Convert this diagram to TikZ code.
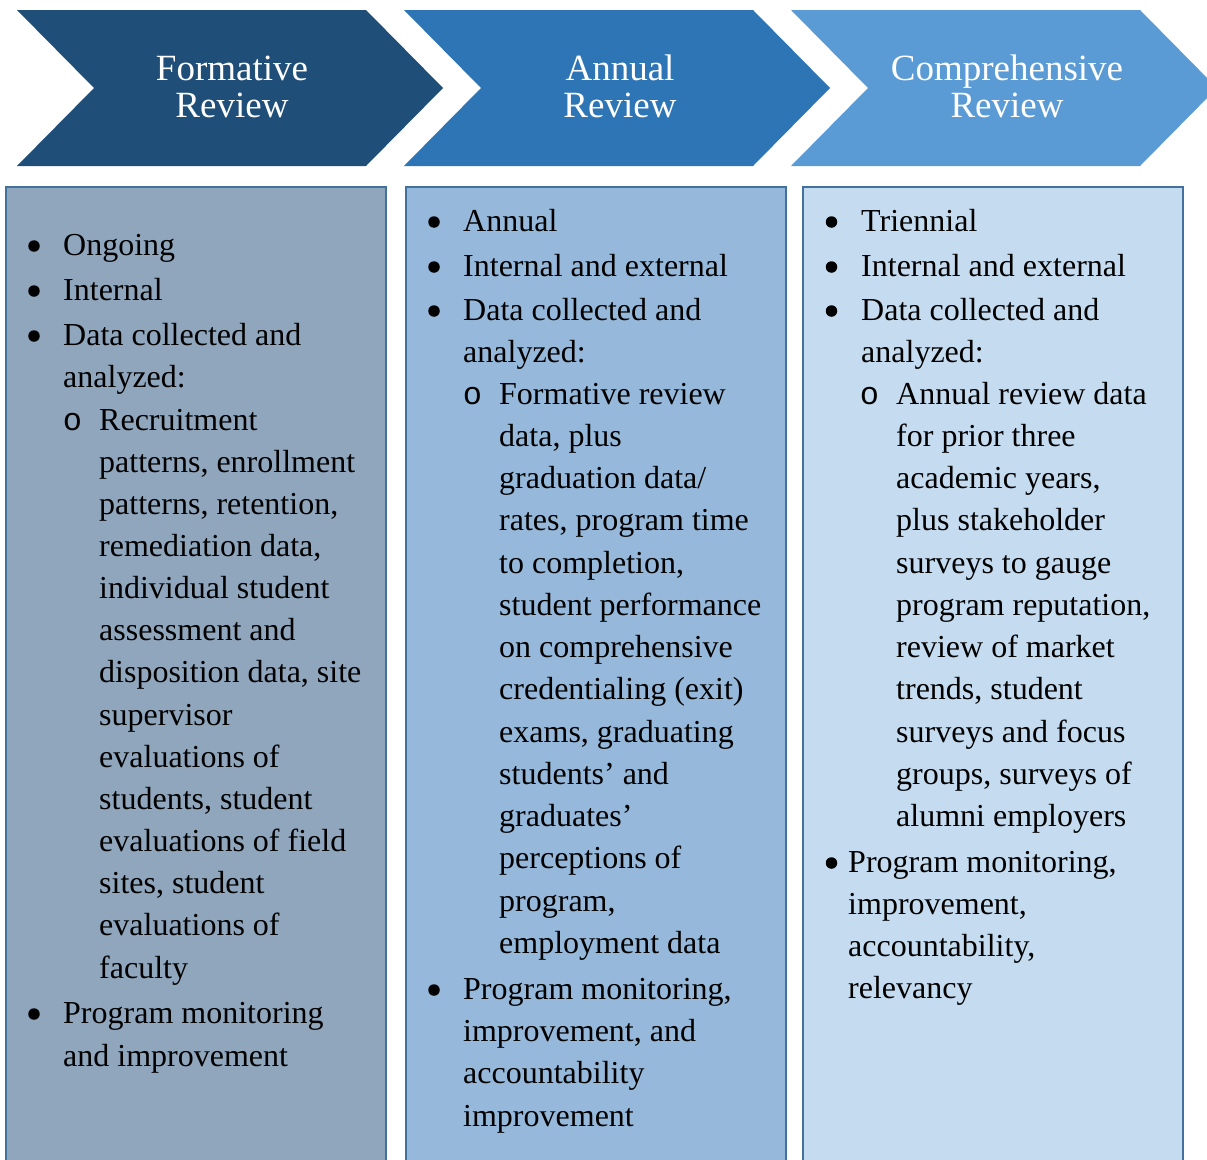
\documentclass[tikz,border=0pt]{standalone}
\usepackage{fontspec}
\setmainfont{Liberation Serif}
\newfontfamily\subbulletfont{Liberation Mono}
\definecolor{chevA}{HTML}{1F4E79}
\definecolor{chevB}{HTML}{2E75B6}
\definecolor{chevC}{HTML}{5B9BD5}
\definecolor{boxA}{HTML}{8FA6BD}
\definecolor{boxB}{HTML}{96B9DB}
\definecolor{boxC}{HTML}{C5DCF0}
\definecolor{edge}{HTML}{41719C}
\newcommand\Ln[4]{\node[txt] (#1) at (#2,#3) {#4};}
\begin{document}
\begin{tikzpicture}[x=1pt,y=-1pt,
  txt/.style={anchor=base west, inner sep=0pt, font=\fontsize{32}{38}\selectfont},
  hd/.style={anchor=base, inner sep=0pt, text=white, font=\fontsize{37}{37}\selectfont},
  dotmark/.style={circle, fill=black, inner sep=0pt, minimum size=11.5pt},
  ringmark/.style={anchor=base, inner sep=0pt, font=\subbulletfont\fontsize{32}{38}\selectfont},
  panel/.style={draw=edge, line width=2pt}]
\useasboundingbox (0,0) rectangle (1207,1159);
\clip (0,0) rectangle (1207,1159);
\fill[white] (0,0) rectangle (1207,1159);
% chevrons
\fill[chevA] (17,10) -- (366,10) -- (443,88) -- (366,166) -- (17,166) -- (94,88) -- cycle;
\fill[chevB] (404,10) -- (753,10) -- (830,88) -- (753,166) -- (404,166) -- (481,88) -- cycle;
\fill[chevC] (791,10) -- (1140,10) -- (1217,88) -- (1140,166) -- (791,166) -- (868,88) -- cycle;
\node[hd] (h1a) at (232,80) {Formative};
\node[hd] (h1b) at (232,117) {Review};
\node[hd] (h2a) at (620,80) {Annual};
\node[hd] (h2b) at (620,117) {Review};
\node[hd] (h3a) at (1007,80) {Comprehensive};
\node[hd] (h3b) at (1007,117) {Review};
% panels
\draw[panel, fill=boxA] (6,187) rectangle (386,1175);
\draw[panel, fill=boxB] (406,187) rectangle (786,1175);
\draw[panel, fill=boxC] (803,187) rectangle (1183,1175);
% ---- panel 1
\node[dotmark] (da1) at (34,246) {};
\node[dotmark] (da2) at (34,291) {};
\node[dotmark] (da3) at (34,336) {};
\node[dotmark] (da4) at (34,1014) {};
\node[ringmark] (oa) at (72.5,430) {o};
\Ln{a1}{63}{255}{Ongoing}
\Ln{a2}{63}{300}{Internal}
\Ln{a3}{63}{345}{Data collected and}
\Ln{a4}{63}{387}{analyzed:}
\Ln{a5}{99}{430}{Recruitment}
\Ln{a6}{99}{472.2}{patterns, enrollment}
\Ln{a7}{99}{514.3}{patterns, retention,}
\Ln{a8}{99}{556.5}{remediation data,}
\Ln{a9}{99}{598.6}{individual student}
\Ln{a10}{99}{640.8}{assessment and}
\Ln{a11}{99}{682.9}{disposition data, site}
\Ln{a12}{99}{725}{supervisor}
\Ln{a13}{99}{767.2}{evaluations of}
\Ln{a14}{99}{809.4}{students, student}
\Ln{a15}{99}{851.5}{evaluations of field}
\Ln{a16}{99}{893.7}{sites, student}
\Ln{a17}{99}{935.8}{evaluations of}
\Ln{a18}{99}{978}{faculty}
\Ln{a19}{63}{1023}{Program monitoring}
\Ln{a20}{63}{1066}{and improvement}
% ---- panel 2
\node[dotmark] (db1) at (434,222) {};
\node[dotmark] (db2) at (434,267) {};
\node[dotmark] (db3) at (434,311) {};
\node[dotmark] (db4) at (434,990) {};
\node[ringmark] (ob) at (472.5,404) {o};
\Ln{b1}{463}{231}{Annual}
\Ln{b2}{463}{276}{Internal and external}
\Ln{b3}{463}{320}{Data collected and}
\Ln{b4}{463}{362}{analyzed:}
\Ln{b5}{499}{404}{Formative review}
\Ln{b6}{499}{446.25}{data, plus}
\Ln{b7}{499}{488.5}{graduation data/}
\Ln{b8}{499}{530.75}{rates, program time}
\Ln{b9}{499}{573}{to completion,}
\Ln{b10}{499}{615.25}{student performance}
\Ln{b11}{499}{657.5}{on comprehensive}
\Ln{b12}{499}{699.75}{credentialing (exit)}
\Ln{b13}{499}{742}{exams, graduating}
\Ln{b14}{499}{784.25}{students’ and}
\Ln{b15}{499}{826.5}{graduates’}
\Ln{b16}{499}{868.75}{perceptions of}
\Ln{b17}{499}{911}{program,}
\Ln{b18}{499}{953.25}{employment data}
\Ln{b19}{463}{999}{Program monitoring,}
\Ln{b20}{463}{1041.5}{improvement, and}
\Ln{b21}{463}{1083.5}{accountability}
\Ln{b22}{463}{1126}{improvement}
% ---- panel 3
\node[dotmark] (dc1) at (831.5,222) {};
\node[dotmark] (dc2) at (831.5,267) {};
\node[dotmark] (dc3) at (831.5,311) {};
\node[dotmark] (dc4) at (831.5,863) {};
\node[ringmark] (oc) at (869.5,404) {o};
\Ln{c1}{861}{231}{Triennial}
\Ln{c2}{861}{276}{Internal and external}
\Ln{c3}{861}{320}{Data collected and}
\Ln{c4}{861}{362}{analyzed:}
\Ln{c5}{896}{404}{Annual review data}
\Ln{c6}{896}{446.25}{for prior three}
\Ln{c7}{896}{488.5}{academic years,}
\Ln{c8}{896}{530.75}{plus stakeholder}
\Ln{c9}{896}{573}{surveys to gauge}
\Ln{c10}{896}{615.25}{program reputation,}
\Ln{c11}{896}{657.5}{review of market}
\Ln{c12}{896}{699.75}{trends, student}
\Ln{c13}{896}{742}{surveys and focus}
\Ln{c14}{896}{784.25}{groups, surveys of}
\Ln{c15}{896}{826.5}{alumni employers}
\Ln{c16}{848}{872}{Program monitoring,}
\Ln{c17}{848}{914}{improvement,}
\Ln{c18}{848}{956}{accountability,}
\Ln{c19}{848}{998}{relevancy}
\end{tikzpicture}
\end{document}
